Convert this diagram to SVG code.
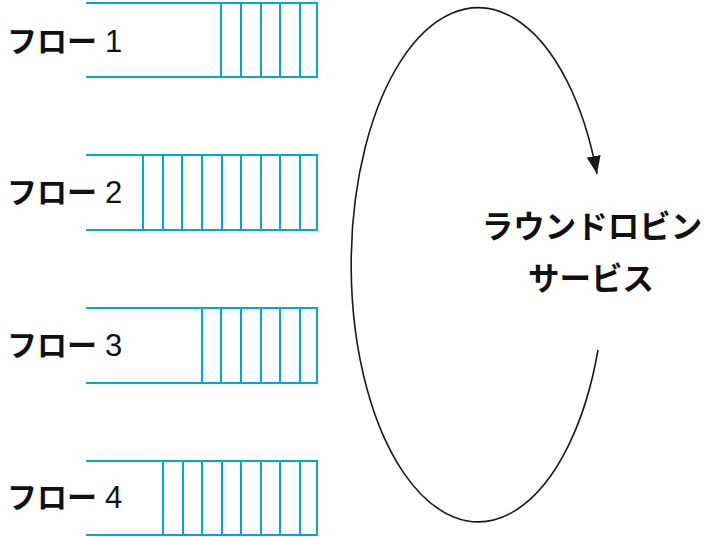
<svg xmlns="http://www.w3.org/2000/svg" width="708" height="537" viewBox="0 0 708 537">
<defs>
<style>
.q{fill:none;stroke:#00a6d6;stroke-width:2}
.lbl{font-family:"Noto Sans CJK JP","Noto Sans",sans-serif;font-size:30px;font-weight:bold;fill:#111}
.num{font-family:"Liberation Sans","Noto Sans CJK JP",sans-serif;font-size:31px;font-weight:normal}
.svc{font-family:"Noto Sans CJK JP","Noto Sans",sans-serif;font-size:31.5px;font-weight:bold;fill:#111;text-anchor:middle}
.loop{fill:none;stroke:#1a1a1a;stroke-width:1.6}
</style>
<marker id="arr" viewBox="0 0 18 14" refX="18" refY="7" markerWidth="18" markerHeight="14" markerUnits="userSpaceOnUse" orient="auto">
<path d="M0,0 L18,7 L0,14 z" fill="#1a1a1a"/>
</marker>
</defs>
<rect width="708" height="537" fill="#fff"/>
<g id="flow1">
<path class="q" d="M86,3 H317 V77 H86 M221,3 V77 M241,3 V77 M261,3 V77 M280,3 V77 M300,3 V77"/>
<text class="lbl" x="7" y="52">フロー<tspan class="num" dx="8">1</tspan></text>
</g>
<g id="flow2">
<path class="q" d="M86,155 H317 V230 H86 M143,155 V230 M163,155 V230 M182,155 V230 M202,155 V230 M222,155 V230 M241,155 V230 M261,155 V230 M280,155 V230 M300,155 V230"/>
<text class="lbl" x="7" y="203">フロー<tspan class="num" dx="8">2</tspan></text>
</g>
<g id="flow3">
<path class="q" d="M86,308 H317 V383 H86 M202,308 V383 M221,308 V383 M241,308 V383 M261,308 V383 M280,308 V383 M300,308 V383"/>
<text class="lbl" x="7" y="356">フロー<tspan class="num" dx="8">3</tspan></text>
</g>
<g id="flow4">
<path class="q" d="M86,461 H317 V535 H86 M163,461 V535 M183,461 V535 M202,461 V535 M222,461 V535 M241,461 V535 M261,461 V535 M280,461 V535 M300,461 V535"/>
<text class="lbl" x="7" y="508">フロー<tspan class="num" dx="8">4</tspan></text>
</g>
<g id="service">
<text class="svc" x="592" y="238">ラウンドロビン</text>
<text class="svc" x="591" y="290">サービス</text>
</g>
<g id="connectors">
<path class="loop" d="M598,350 A127,257 0 1 1 597,174" marker-end="url(#arr)"/>
</g>
</svg>
